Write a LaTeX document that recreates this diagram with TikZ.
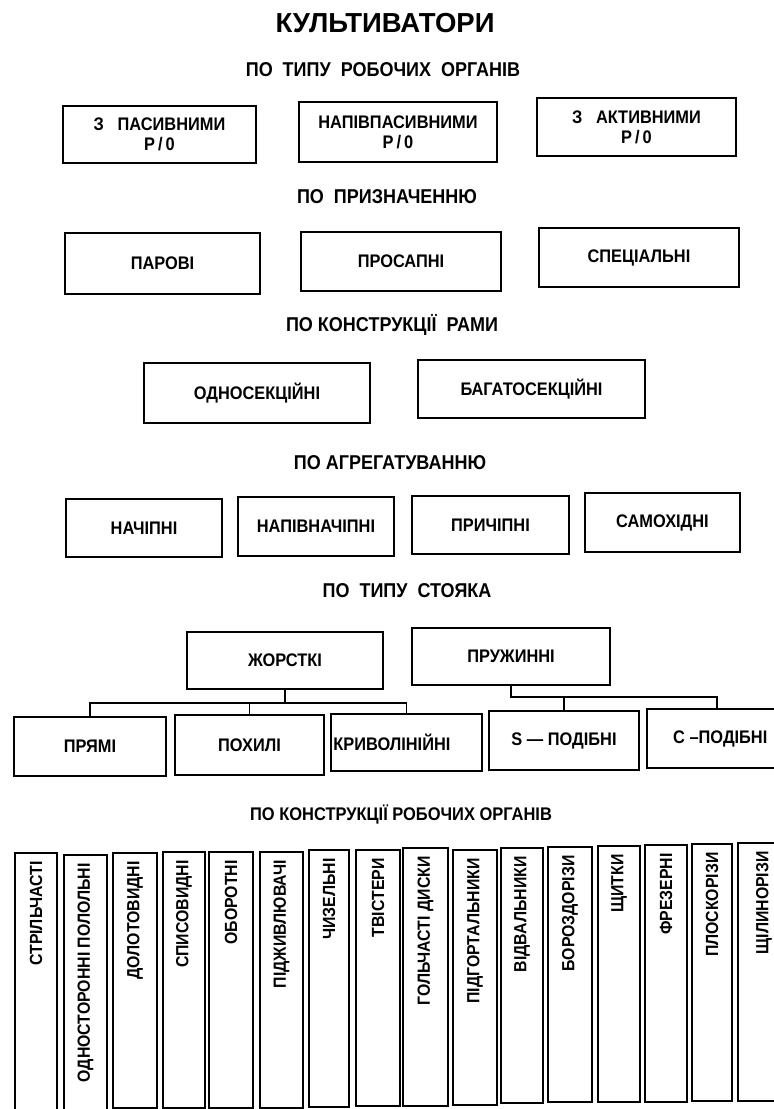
\documentclass[tikz,border=0pt]{standalone}
\usepackage{fontspec}
\setmainfont{Liberation Sans}[FakeStretch=0.9]
\newfontfamily\titlefont{Liberation Sans}
\begin{document}
\begin{tikzpicture}[x=1pt,y=-1pt,
  box/.style={draw, line width=1.6pt, inner sep=0pt, align=center,
    font=\bfseries\fontsize{18.2}{20}\selectfont},
  lbl/.style={inner sep=0pt, font=\bfseries\fontsize{18.2}{20}\selectfont},
  head/.style={inner sep=0pt, font=\bfseries\fontsize{20}{22}\selectfont},
  headsmall/.style={inner sep=0pt, font=\bfseries\fontsize{18.3}{20}\selectfont},
  vbox/.style={draw, line width=1.6pt, inner sep=0pt},
  vtext/.style={inner sep=0pt, rotate=90, anchor=east,
    font=\bfseries\fontsize{17.6}{19}\selectfont},
  link/.style={line width=1.6pt}]
\useasboundingbox (0,0) rectangle (774,1109);
\fill[white] (0,0) rectangle (774,1109);

% title and section headings
\node[inner sep=0pt, font=\titlefont\bfseries\fontsize{27.5}{30}\selectfont] (title) at (385,23) {КУЛЬТИВАТОРИ};
\node[head] (h1) at (383,70) {ПО\ \ ТИПУ\ \ РОБОЧИХ\ \ ОРГАНІВ};
\node[head] (h2) at (387,197) {ПО\ \ ПРИЗНАЧЕННЮ};
\node[head] (h3) at (392,325) {ПО\ КОНСТРУКЦІЇ\ \ РАМИ};
\node[head] (h4) at (390,463) {ПО\ АГРЕГАТУВАННЮ};
\node[head] (h5) at (407,591) {ПО\ \ ТИПУ\ \ СТОЯКА};
\node[headsmall] (h6) at (401,814) {ПО\ КОНСТРУКЦІЇ\ РОБОЧИХ\ ОРГАНІВ};

% row 1
\node[box, minimum width=193pt, minimum height=57pt] (r1a) at (159.5,134.5) {З\ \ \ ПАСИВНИМИ\\Р\,/\,0};
\node[box, minimum width=198pt, minimum height=60pt] (r1b) at (398,132) {НАПІВПАСИВНИМИ\\Р\,/\,0};
\node[box, minimum width=199pt, minimum height=58pt] (r1c) at (636.5,127) {З\ \ \ АКТИВНИМИ\\Р\,/\,0};

% row 2
\node[box, minimum width=195pt, minimum height=61pt] (r2a) at (162.5,263.5) {ПАРОВІ};
\node[box, minimum width=200pt, minimum height=59pt] (r2b) at (401,261.5) {ПРОСАПНІ};
\node[box, minimum width=200pt, minimum height=59pt] (r2c) at (639,257.5) {СПЕЦІАЛЬНІ};

% row 3
\node[box, minimum width=226pt, minimum height=60pt] (r3a) at (257,393) {ОДНОСЕКЦІЙНІ};
\node[box, minimum width=227pt, minimum height=58pt] (r3b) at (531.5,389) {БАГАТОСЕКЦІЙНІ};

% row 4
\node[box, minimum width=156pt, minimum height=58pt] (r4a) at (144,528) {НАЧІПНІ};
\node[box, minimum width=156pt, minimum height=59pt] (r4b) at (316,526.5) {НАПІВНАЧІПНІ};
\node[box, minimum width=157pt, minimum height=58pt] (r4c) at (490.5,525) {ПРИЧІПНІ};
\node[box, minimum width=155pt, minimum height=59pt] (r4d) at (662.5,522.5) {САМОХІДНІ};

% row 5
\node[box, minimum width=196pt, minimum height=57pt] (zh) at (285,660.5) {ЖОРСТКІ};
\node[box, minimum width=198pt, minimum height=57pt] (pz) at (511,656.5) {ПРУЖИННІ};

% row 6
\node[box, minimum width=152pt, minimum height=59pt] (pr) at (90,746.5) {ПРЯМІ};
\node[box, minimum width=149pt, minimum height=60pt] (ph) at (249.5,745) {ПОХИЛІ};
\node[box, minimum width=151pt, minimum height=57pt] (kr) at (406.5,742.5) {};
\node[lbl, anchor=west] (krt) at ([xshift=3pt]kr.west) {КРИВОЛІНІЙНІ};
\node[box, minimum width=150pt, minimum height=59pt] (sp) at (564,740.5) {S\ —\ ПОДІБНІ};
\node[box, minimum width=140pt, minimum height=59pt] (cp) at (717,738.5) {};
\node[lbl, anchor=west] (cpt) at (673,738.5) {С\ –ПОДІБНІ};

% connectors
\coordinate (j1) at (285,703);
\coordinate (j2) at (511,697);
\draw[link] (zh.south) -- (j1);
\draw[link] (pr.north) |- (j1) -| (kr.north);
\draw[link] (ph.north) -- (ph.north |- j1);
\draw[link] (pz.south) -- (j2) -| (cp.north);
\draw[link] (sp.north) -- (sp.north |- j2);

% row 7: vertical boxes
\foreach \i/\xa/\xb/\ya/\yb/\t in {
  1/15/57/853/1112/СТРІЛЬЧАСТІ,
  2/64/107/855/1112/ОДНОСТОРОННІ ПОЛОЛЬНІ,
  3/113/157/853/1108/ДОЛОТОВИДНІ,
  4/163/205/852/1108/СПИСОВИДНІ,
  5/209/253/852/1108/ОБОРОТНІ,
  6/260/303/852/1108/ПІДЖИВЛЮВАЧІ,
  7/309/349/850/1107/ЧИЗЕЛЬНІ,
  8/356/400/850/1106/ТВІСТЕРИ,
  9/403/448/848/1106/ГОЛЬЧАСТІ ДИСКИ,
  10/453/497/850/1105/ПІДГОРТАЛЬНИКИ,
  11/501/543/848/1103/ВІДВАЛЬНИКИ,
  12/548/592/847/1102/БОРОЗДОРІЗИ,
  13/598/640/846/1102/ЩИТКИ,
  14/645/687/845/1102/ФРЕЗЕРНІ,
  15/692/732/844/1101/ПЛОСКОРІЗИ,
  16/738/790/843/1101/ЩІЛИНОРІЗИ}{
  \node[vbox, minimum width={(\xb-\xa)*1pt}, minimum height={(\yb-\ya)*1pt}]
    (v\i) at ({(\xa+\xb)/2},{(\ya+\yb)/2}) {};
  \node[vtext] (vt\i) at ([yshift=-9pt]v\i.north) {\t};
}
\end{tikzpicture}
\end{document}
